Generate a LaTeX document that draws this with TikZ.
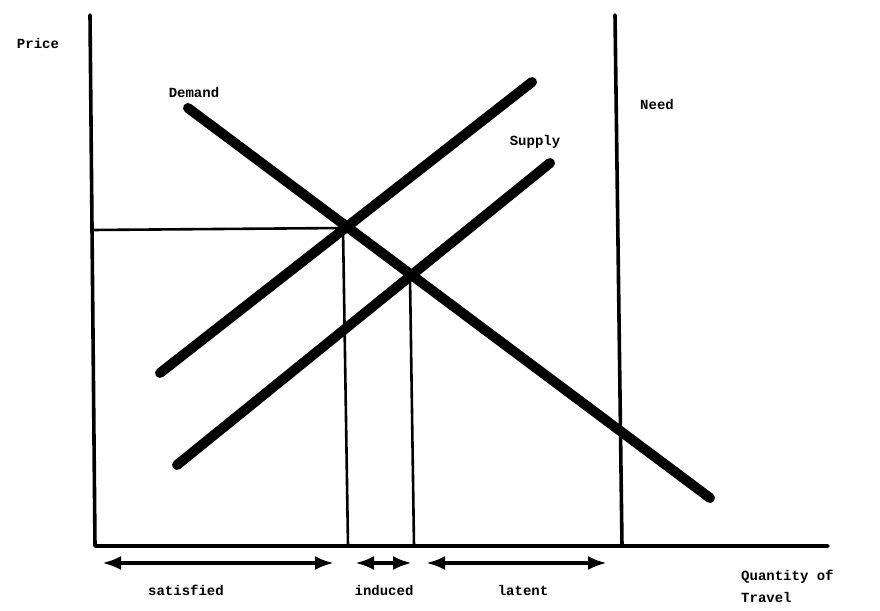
\documentclass[tikz,border=0pt]{standalone}
\usepackage{fontspec}
\setmainfont{Liberation Mono}
\usetikzlibrary{arrows.meta}
\begin{document}
\begin{tikzpicture}[x=1pt,y=-1pt,
  axisline/.style={line width=3.6pt, line cap=round, line join=round},
  curveline/.style={line width=10pt, line cap=round},
  thinline/.style={line width=2.6pt},
  rangearrow/.style={line width=3.8pt, {Latex[length=19pt,width=14pt]}-{Latex[length=19pt,width=14pt]}},
  lbl/.style={font=\bfseries\fontsize{14}{15}\selectfont, inner sep=0pt}]
\useasboundingbox (0,0) rectangle (880,610);
% coordinates
\coordinate (ytop) at (90,15);
\coordinate (origin) at (95,546);
\coordinate (xend) at (828,546);
\coordinate (needtop) at (615,15);
\coordinate (needbot) at (622,546);
\coordinate (d1) at (188,108);
\coordinate (d2) at (710,498);
\coordinate (s1a) at (160,373);
\coordinate (s1b) at (532,82);
\coordinate (s2a) at (177,465);
\coordinate (s2b) at (550,163);
\coordinate (e1) at (343,228);
\coordinate (e1y) at (92,230);
\coordinate (e1x) at (348,546);
\coordinate (e2) at (410,277);
\coordinate (e2x) at (414,546);
% axes
\draw[axisline] (ytop) -- (origin) -- (xend);
\draw[axisline] (needtop) -- (needbot);
% curves
\draw[curveline] (d1) -- (d2);
\draw[curveline] (s1a) -- (s1b);
\draw[curveline] (s2a) -- (s2b);
% guide lines
\draw[thinline] (e1y) -- (e1);
\draw[thinline] (e1) -- (e1x);
\draw[thinline] (e2) -- (e2x);
% range arrows
\coordinate (a1) at (102,563);
\coordinate (a2) at (334,563);
\coordinate (b1) at (355,563);
\coordinate (b2) at (412,563);
\coordinate (c1) at (426,563);
\coordinate (c2) at (607,563);
\draw[rangearrow] (a1) -- (a2);
\draw[rangearrow] (b1) -- (b2);
\draw[rangearrow] (c1) -- (c2);
% labels
\node[lbl] (price) at (38,43) {Price};
\node[lbl] (demand) at (194,92) {Demand};
\node[lbl] (supply) at (535,142) {Supply};
\node[lbl] (need) at (657,104) {Need};
\node[lbl] (sat) at (186,590) {satisfied};
\node[lbl] (ind) at (384,590) {induced};
\node[lbl] (lat) at (523,590) {latent};
\node[lbl, anchor=west] (qty) at (741,577) {Quantity of};
\node[lbl, anchor=west] (trav) at (741,597) {Travel};
\end{tikzpicture}
\end{document}
